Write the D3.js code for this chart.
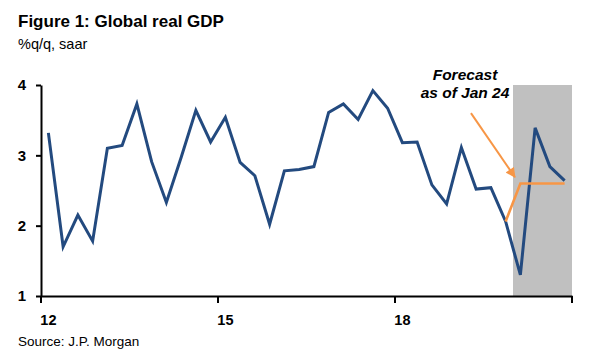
<!DOCTYPE html>
<html><head><meta charset="utf-8">
<script src="https://cdn.jsdelivr.net/npm/d3@7"></script>
<style>
body{margin:0;background:#fff}
svg{display:block;font-family:"Liberation Sans",Arial,Helvetica,sans-serif}
</style>
</head><body>
<svg id="chart" width="600" height="359"></svg>
<script>
// ---- data ----
const quarters = [
  "2012Q1","2012Q2","2012Q3","2012Q4","2013Q1","2013Q2","2013Q3","2013Q4",
  "2014Q1","2014Q2","2014Q3","2014Q4","2015Q1","2015Q2","2015Q3","2015Q4",
  "2016Q1","2016Q2","2016Q3","2016Q4","2017Q1","2017Q2","2017Q3","2017Q4",
  "2018Q1","2018Q2","2018Q3","2018Q4","2019Q1","2019Q2","2019Q3","2019Q4",
  "2020Q1","2020Q2","2020Q3","2020Q4"];
const gdp = [3.32,1.70,2.15,1.78,3.10,3.14,3.73,2.91,2.33,2.97,3.64,3.19,
             3.54,2.90,2.71,2.02,2.78,2.80,2.84,3.61,3.73,3.51,3.92,3.67,
             3.18,3.19,2.58,2.31,3.11,2.52,2.54,2.06,1.30,3.39,2.84,2.64];
const forecastQuarters = ["2019Q4","2020Q1","2020Q2","2020Q3","2020Q4"];
const forecastValues = [2.06,2.60,2.60,2.60,2.60];
const shadedRange = ["2020Q1","2020Q4"];
const xTickQuarters = ["2012Q1","2015Q1","2018Q1"];
const xTickLabels = ["12","15","18"];
const yTicks = [1,2,3,4];
const annotationLines = ["Forecast","as of Jan 24"];

(function(){
// ---- layout ----
const svg = d3.select("#chart");
const mLeft = 41, mRight = 572, mTop = 85, mBottom = 296;
const x = d3.scaleBand().domain(quarters).range([mLeft, mRight]).paddingInner(0).paddingOuter(0);
const xc = q => x(q) + x.bandwidth() / 2;
const xi = i => mLeft + (i + 0.5) * x.bandwidth();
const y = d3.scaleLinear().domain([1, 4]).range([mBottom, mTop]);

const BLUE = "#234a7f", ORANGE = "#f79646", GREY = "#c0c0c0";

// shaded forecast area
svg.append("rect")
  .attr("x", x(shadedRange[0]))
  .attr("y", y(4))
  .attr("width", x(shadedRange[1]) + x.bandwidth() - x(shadedRange[0]))
  .attr("height", y(1) - y(4))
  .attr("fill", GREY);

// lines
const line = d3.line().x(d => xc(d[0])).y(d => y(d[1]));
svg.append("path")
  .datum(quarters.map((q, i) => [q, gdp[i]]))
  .attr("d", line).attr("fill", "none")
  .attr("stroke", BLUE).attr("stroke-width", 3).attr("stroke-linejoin", "miter");
svg.append("path")
  .datum(forecastQuarters.map((q, i) => [q, forecastValues[i]]))
  .attr("d", line).attr("fill", "none")
  .attr("stroke", ORANGE).attr("stroke-width", 2.6);

// y axis
const yAxis = svg.append("g").attr("transform", `translate(${mLeft},0)`)
  .call(d3.axisLeft(y).tickValues(yTicks).tickFormat(d3.format("d"))
        .tickSize(5).tickSizeOuter(0).tickPadding(10));
yAxis.select(".domain").attr("stroke", "#000").attr("stroke-width", 2);
yAxis.selectAll(".tick line").attr("stroke", "#000").attr("stroke-width", 2);
yAxis.selectAll(".tick text").attr("font-size", "15px").attr("font-weight", "bold")
  .attr("fill", "#000").attr("font-family", "Liberation Sans, Arial, sans-serif");

// x axis
const xAxis = svg.append("g").attr("transform", `translate(0,${mBottom})`)
  .call(d3.axisBottom(x).tickValues(xTickQuarters)
        .tickFormat(q => xTickLabels[xTickQuarters.indexOf(q)])
        .tickSize(0).tickSizeOuter(0).tickPadding(19));
xAxis.select(".domain").attr("stroke", "#000").attr("stroke-width", 2);
xAxis.selectAll(".tick text").attr("font-size", "14.5px").attr("font-weight", "bold")
  .attr("fill", "#000").attr("font-family", "Liberation Sans, Arial, sans-serif");
// boundary tick marks
xAxis.selectAll(".bt").data(xTickQuarters.map(q => x(q)).concat([mRight]))
  .enter().append("line").attr("class", "bt")
  .attr("x1", d => d).attr("x2", d => d).attr("y1", 0).attr("y2", 7)
  .attr("stroke", "#000").attr("stroke-width", 2);

// annotation arrow
const defs = svg.append("defs");
defs.append("marker").attr("id", "ah")
  .attr("viewBox", "0 0 10 10").attr("refX", 9).attr("refY", 5)
  .attr("markerWidth", 11).attr("markerHeight", 10)
  .attr("markerUnits", "userSpaceOnUse").attr("orient", "auto")
  .append("path").attr("d", "M0,0 L10,5 L0,10 Z").attr("fill", ORANGE);
svg.append("line")
  .attr("x1", xi(28.65)).attr("y1", y(3.60))
  .attr("x2", xi(31.63)).attr("y2", y(2.69))
  .attr("stroke", ORANGE).attr("stroke-width", 2)
  .attr("marker-end", "url(#ah)");

svg.append("g").selectAll("text").data(annotationLines).enter().append("text")
  .attr("x", 465).attr("y", (d, i) => 80 + i * 17.5)
  .attr("text-anchor", "middle")
  .attr("font-size", "15.5px").attr("font-weight", "bold").attr("font-style", "italic")
  .attr("fill", "#000").text(d => d);

// titles
svg.append("text").attr("x", 18).attr("y", 27).attr("font-size", "17px")
  .attr("font-weight", "bold").attr("fill", "#000").text("Figure 1: Global real GDP");
svg.append("text").attr("x", 18).attr("y", 49).attr("font-size", "14.5px")
  .attr("fill", "#000").text("%q/q, saar");
svg.append("text").attr("x", 18).attr("y", 346).attr("font-size", "13.5px")
  .attr("fill", "#000").text("Source: J.P. Morgan");
})();
</script>
</body></html>
